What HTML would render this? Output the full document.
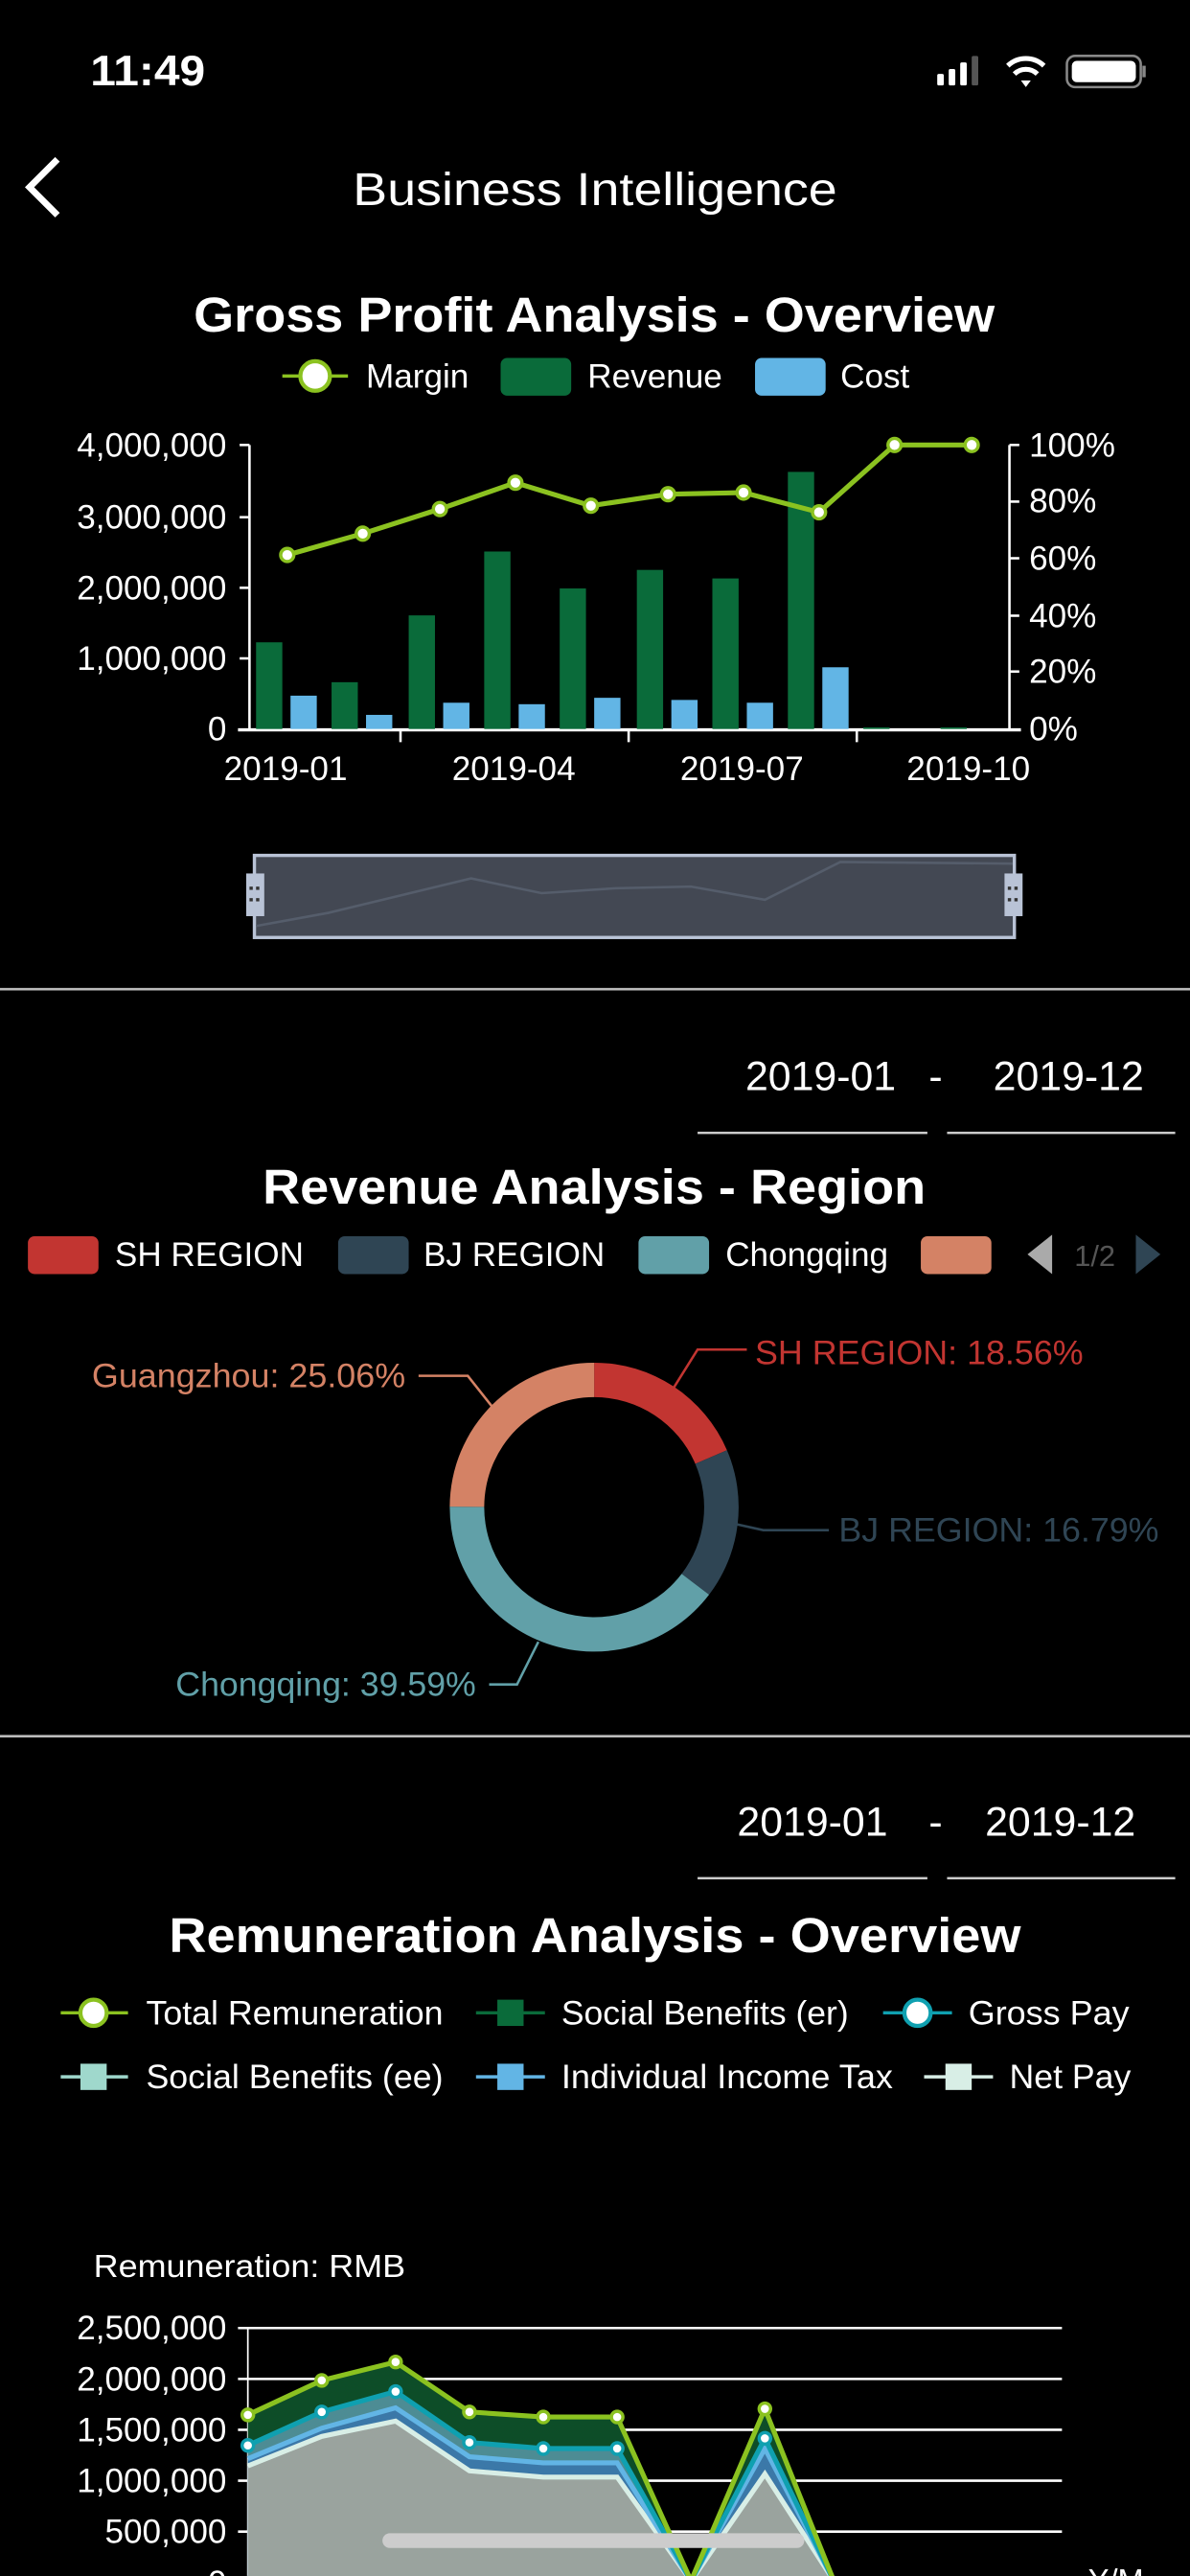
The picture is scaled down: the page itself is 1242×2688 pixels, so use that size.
<!DOCTYPE html>
<html><head><meta charset="utf-8"><style>
html,body{margin:0;padding:0;background:#000;width:1242px;height:2688px;overflow:hidden}
svg{display:block}
text{font-family:"Liberation Sans",sans-serif}
</style></head><body>
<svg width="1242" height="2688" viewBox="0 0 725 1569" xmlns="http://www.w3.org/2000/svg">
<rect width="725" height="1569" fill="#000"/>
<!-- status bar -->
<text x="55" y="52" fill="#fff" font-size="26" font-weight="600" textLength="70" lengthAdjust="spacingAndGlyphs">11:49</text>
<g fill="#fff">
<rect x="571" y="45" width="4" height="7" rx="1"/><rect x="578" y="42" width="4" height="10" rx="1"/><rect x="585" y="38" width="4" height="14" rx="1"/><rect x="592" y="34" width="4" height="18" rx="1" fill="#555"/>
</g>
<path d="M614 40 a16 16 0 0 1 22 0" stroke="#fff" stroke-width="3" fill="none"/>
<path d="M618 45 a10 10 0 0 1 14 0" stroke="#fff" stroke-width="3" fill="none"/>
<path d="M622 49 l3 4 l3 -4 z" fill="#fff"/>
<rect x="650" y="34" width="45" height="19" rx="5" fill="none" stroke="#888" stroke-width="1.5"/>
<rect x="653" y="37" width="39" height="13" rx="3" fill="#fff"/>
<rect x="696" y="40" width="2" height="7" fill="#888"/>
<!-- nav -->
<path d="M35 97 L18 114 L35 131" stroke="#fff" stroke-width="4" fill="none"/>
<text x="215" y="125" fill="#fff" font-size="28" font-weight="500" textLength="295" lengthAdjust="spacingAndGlyphs">Business Intelligence</text>

<!-- chart 1 -->
<text x="118" y="202" fill="#fff" font-size="30" font-weight="bold" textLength="488" lengthAdjust="spacingAndGlyphs">Gross Profit Analysis - Overview</text>
<line x1="172" y1="229" x2="212" y2="229" stroke="#8bc220" stroke-width="2"/>
<circle cx="192" cy="229" r="9" fill="#fff" stroke="#8bc220" stroke-width="2.5"/>
<text x="223" y="236" fill="#fff" font-size="20.5">Margin</text>
<rect x="305" y="218" width="43" height="23" rx="4" fill="#0a6b3a"/>
<text x="358" y="236" fill="#fff" font-size="20.5">Revenue</text>
<rect x="460" y="218" width="43" height="23" rx="4" fill="#62b5e5"/>
<text x="512" y="236" fill="#fff" font-size="20.5">Cost</text>
<g fill="#fff" font-size="20.5" text-anchor="end">
<text x="138" y="278">4,000,000</text><text x="138" y="322">3,000,000</text><text x="138" y="365">2,000,000</text><text x="138" y="408">1,000,000</text><text x="138" y="451">0</text>
</g>
<g fill="#fff" font-size="20.5">
<text x="627" y="278">100%</text><text x="627" y="312">80%</text><text x="627" y="347">60%</text><text x="627" y="382">40%</text><text x="627" y="416">20%</text><text x="627" y="451">0%</text>
</g>
<g stroke="#fff" stroke-width="1.5">
<line x1="152" y1="271" x2="152" y2="444"/><line x1="146" y1="271" x2="152" y2="271"/><line x1="146" y1="315" x2="152" y2="315"/><line x1="146" y1="358" x2="152" y2="358"/><line x1="146" y1="401" x2="152" y2="401"/>
<line x1="615" y1="271" x2="615" y2="444"/><line x1="615" y1="271" x2="621" y2="271"/><line x1="615" y1="305.5" x2="621" y2="305.5"/><line x1="615" y1="340" x2="621" y2="340"/><line x1="615" y1="375" x2="621" y2="375"/><line x1="615" y1="409" x2="621" y2="409"/>
<line x1="145" y1="444.5" x2="622" y2="444.5" stroke-width="2"/>
<line x1="244" y1="444" x2="244" y2="452"/><line x1="383" y1="444" x2="383" y2="452"/><line x1="522" y1="444" x2="522" y2="452"/>
</g>
<g fill="#0a6b3a">
<rect x="156" y="391.2" width="16" height="52.8"/><rect x="202" y="415.5" width="16" height="28.5"/><rect x="249" y="374.8" width="16" height="69.2"/><rect x="295" y="335.9" width="16" height="108.1"/><rect x="341" y="358.4" width="16" height="85.6"/><rect x="388" y="347.1" width="16" height="96.9"/><rect x="434" y="352.3" width="16" height="91.7"/><rect x="480" y="287.4" width="16" height="156.6"/><rect x="526" y="443" width="16" height="1"/><rect x="573" y="443" width="16" height="1"/>
</g>
<g fill="#62b5e5">
<rect x="177" y="423.7" width="16" height="20.3"/><rect x="223" y="435.4" width="16" height="8.6"/><rect x="270" y="428" width="16" height="16"/><rect x="316" y="428.9" width="16" height="15.1"/><rect x="362" y="425" width="16" height="19"/><rect x="409" y="426.3" width="16" height="17.7"/><rect x="455" y="428" width="16" height="16"/><rect x="501" y="406.4" width="16" height="37.6"/>
</g>
<polyline points="175,338 221,325 268,310 314,294 360,308 407,301 453,300 499,312 545,271 592,271" fill="none" stroke="#8bc220" stroke-width="3"/>
<g fill="#fff" stroke="#8bc220" stroke-width="2">
<circle cx="175" cy="338" r="4"/><circle cx="221" cy="325" r="4"/><circle cx="268" cy="310" r="4"/><circle cx="314" cy="294" r="4"/><circle cx="360" cy="308" r="4"/><circle cx="407" cy="301" r="4"/><circle cx="453" cy="300" r="4"/><circle cx="499" cy="312" r="4"/><circle cx="545" cy="271" r="4"/><circle cx="592" cy="271" r="4"/>
</g>
<g fill="#fff" font-size="20.5" text-anchor="middle">
<text x="174" y="475">2019-01</text><text x="313" y="475">2019-04</text><text x="452" y="475">2019-07</text><text x="590" y="475">2019-10</text>
</g>
<!-- datazoom -->
<rect x="155" y="521" width="463" height="50" fill="#434853" stroke="#b9c3d6" stroke-width="2"/>
<polyline points="156,564 200,556 287,535 330,544 375,541 421,540 466,548 512,525 617,526" fill="none" stroke="#555d6b" stroke-width="1.5"/>
<rect x="150" y="532" width="11" height="26" fill="#b9c3d6"/><rect x="612" y="532" width="11" height="26" fill="#b9c3d6"/>
<g fill="#333"><rect x="152" y="540" width="2" height="2"/><rect x="156" y="540" width="2" height="2"/><rect x="152" y="547" width="2" height="2"/><rect x="156" y="547" width="2" height="2"/><rect x="614" y="540" width="2" height="2"/><rect x="618" y="540" width="2" height="2"/><rect x="614" y="547" width="2" height="2"/><rect x="618" y="547" width="2" height="2"/></g>
<line x1="0" y1="602.5" x2="725" y2="602.5" stroke="#bbb" stroke-width="1.5"/>

<!-- section 2 -->
<g fill="#fff" font-size="25" text-anchor="middle">
<text x="500" y="664">2019-01</text><text x="570" y="664">-</text><text x="651" y="664">2019-12</text>
</g>
<line x1="425" y1="690" x2="565" y2="690" stroke="#ccc" stroke-width="1.5"/><line x1="577" y1="690" x2="716" y2="690" stroke="#ccc" stroke-width="1.5"/>
<text x="160" y="733" fill="#fff" font-size="30" font-weight="bold" textLength="404" lengthAdjust="spacingAndGlyphs">Revenue Analysis - Region</text>
<rect x="17" y="753" width="43" height="23" rx="4" fill="#c23531"/><text x="70" y="771" fill="#fff" font-size="20.5">SH REGION</text>
<rect x="206" y="753" width="43" height="23" rx="4" fill="#2f4554"/><text x="258" y="771" fill="#fff" font-size="20.5">BJ REGION</text>
<rect x="389" y="753" width="43" height="23" rx="4" fill="#61a0a8"/><text x="442" y="771" fill="#fff" font-size="20.5">Chongqing</text>
<rect x="561" y="753" width="43" height="23" rx="4" fill="#d48265"/>
<path d="M641 752 L626 764 L641 776 Z" fill="#aaa"/>
<text x="667" y="771" fill="#555" font-size="18" text-anchor="middle">1/2</text>
<path d="M692 752 L707 764 L692 776 Z" fill="#2f4554"/>
<!-- donut -->
<path d="M362 830 A88 88 0 0 1 442.9 883.3 L423.6 891.6 A67 67 0 0 0 362 851 Z" fill="#c23531"/>
<path d="M442.9 883.3 A88 88 0 0 1 432 971.3 L415.3 958.6 A67 67 0 0 0 423.6 891.6 Z" fill="#2f4554"/>
<path d="M432 971.3 A88 88 0 0 1 274 917.7 L295 917.8 A67 67 0 0 0 415.3 958.6 Z" fill="#61a0a8"/>
<path d="M274 917.7 A88 88 0 0 1 362 830 L362 851 A67 67 0 0 0 295 917.8 Z" fill="#d48265"/>
<polyline points="410,846 425,822 455,822" fill="none" stroke="#c23531" stroke-width="1.5"/>
<text x="460" y="831" fill="#c23531" font-size="20.5" textLength="200" lengthAdjust="spacingAndGlyphs">SH REGION: 18.56%</text>
<polyline points="447,928 465,932 505,932" fill="none" stroke="#2f4554" stroke-width="1.5"/>
<text x="511" y="939" fill="#2f4554" font-size="20.5" textLength="195" lengthAdjust="spacingAndGlyphs">BJ REGION: 16.79%</text>
<polyline points="328,1000 315,1026 298,1026" fill="none" stroke="#61a0a8" stroke-width="1.5"/>
<text x="107" y="1033" fill="#61a0a8" font-size="20.5" textLength="183" lengthAdjust="spacingAndGlyphs">Chongqing: 39.59%</text>
<polyline points="300,857 285,838 255,838" fill="none" stroke="#d48265" stroke-width="1.5"/>
<text x="56" y="845" fill="#d48265" font-size="20.5" textLength="191" lengthAdjust="spacingAndGlyphs">Guangzhou: 25.06%</text>
<line x1="0" y1="1057.5" x2="725" y2="1057.5" stroke="#bbb" stroke-width="1.5"/>

<!-- section 3 -->
<g fill="#fff" font-size="25" text-anchor="middle">
<text x="495" y="1118">2019-01</text><text x="570" y="1118">-</text><text x="646" y="1118">2019-12</text>
</g>
<line x1="425" y1="1144" x2="565" y2="1144" stroke="#ccc" stroke-width="1.5"/><line x1="577" y1="1144" x2="716" y2="1144" stroke="#ccc" stroke-width="1.5"/>
<text x="103" y="1189" fill="#fff" font-size="30" font-weight="bold" textLength="519" lengthAdjust="spacingAndGlyphs">Remuneration Analysis - Overview</text>
<line x1="37" y1="1226" x2="78" y2="1226" stroke="#8bc220" stroke-width="2"/><circle cx="57" cy="1226" r="8" fill="#fff" stroke="#8bc220" stroke-width="2.5"/>
<text x="89" y="1233" fill="#fff" font-size="20.5" textLength="181" lengthAdjust="spacingAndGlyphs">Total Remuneration</text>
<line x1="290" y1="1226" x2="332" y2="1226" stroke="#0a6b3a" stroke-width="2"/><rect x="303" y="1218" width="16" height="16" fill="#0a6b3a"/>
<text x="342" y="1233" fill="#fff" font-size="20.5" textLength="175" lengthAdjust="spacingAndGlyphs">Social Benefits (er)</text>
<line x1="538" y1="1226" x2="580" y2="1226" stroke="#0fa0b0" stroke-width="2"/><circle cx="559" cy="1226" r="8" fill="#fff" stroke="#0fa0b0" stroke-width="2.5"/>
<text x="590" y="1233" fill="#fff" font-size="20.5" textLength="98" lengthAdjust="spacingAndGlyphs">Gross Pay</text>
<line x1="37" y1="1265" x2="78" y2="1265" stroke="#9fd8cc" stroke-width="2"/><rect x="49" y="1257" width="16" height="16" fill="#9fd8cc"/>
<text x="89" y="1272" fill="#fff" font-size="20.5" textLength="181" lengthAdjust="spacingAndGlyphs">Social Benefits (ee)</text>
<line x1="290" y1="1265" x2="332" y2="1265" stroke="#62b5e5" stroke-width="2"/><rect x="303" y="1257" width="16" height="16" fill="#62b5e5"/>
<text x="342" y="1272" fill="#fff" font-size="20.5" textLength="202" lengthAdjust="spacingAndGlyphs">Individual Income Tax</text>
<line x1="563" y1="1265" x2="605" y2="1265" stroke="#d8eee6" stroke-width="2"/><rect x="576" y="1257" width="16" height="16" fill="#d8eee6"/>
<text x="615" y="1272" fill="#fff" font-size="20.5" textLength="74" lengthAdjust="spacingAndGlyphs">Net Pay</text>
<text x="57" y="1387" fill="#fff" font-size="19.5" textLength="190" lengthAdjust="spacingAndGlyphs">Remuneration: RMB</text>
<g fill="#fff" font-size="20.5" text-anchor="end">
<text x="138" y="1425">2,500,000</text><text x="138" y="1456">2,000,000</text><text x="138" y="1487">1,500,000</text><text x="138" y="1518">1,000,000</text><text x="138" y="1549">500,000</text><text x="138" y="1580">0</text>
</g>
<g stroke="#fff" stroke-width="1.5">
<line x1="145" y1="1418" x2="647" y2="1418"/><line x1="145" y1="1449" x2="647" y2="1449"/><line x1="145" y1="1480" x2="647" y2="1480"/><line x1="145" y1="1511" x2="647" y2="1511"/><line x1="145" y1="1542" x2="647" y2="1542"/>
<line x1="151" y1="1418" x2="151" y2="1569" stroke-width="1"/>
</g>
<polygon points="151,1470.9 196,1449.9 241,1438.7 286,1469.1 331,1472.2 376,1472.2 421,1572 466,1467.2 508,1572 151,1572" fill="#0d4d28"/>
<polygon points="151,1489.5 196,1469.1 241,1456.7 286,1487.7 331,1491.4 376,1491.4 421,1572 466,1485.2 508,1572 151,1572" fill="#4d8c94"/>
<polygon points="151,1497.6 196,1479 241,1466.6 286,1496.4 331,1500.1 376,1500.1 421,1572 466,1491.4 508,1572 151,1572" fill="#3b78a8"/>
<polygon points="151,1502 196,1484 241,1474.7 286,1505 331,1508.8 376,1508.8 421,1572 466,1506.9 508,1572 151,1572" fill="#9aa39e"/>
<polyline points="151,1502 196,1484 241,1474.7 286,1505 331,1508.8 376,1508.8 421,1572 466,1506.9 508,1572" fill="none" stroke="#d8eee6" stroke-width="3"/>
<polyline points="151,1497.6 196,1479 241,1466.6 286,1496.4 331,1500.1 376,1500.1 421,1572 466,1491.4 508,1572" fill="none" stroke="#62b5e5" stroke-width="3"/>
<polyline points="151,1489.5 196,1469.1 241,1456.7 286,1487.7 331,1491.4 376,1491.4 421,1572 466,1485.2 508,1572" fill="none" stroke="#0fa0b0" stroke-width="3"/>
<polyline points="151,1470.9 196,1449.9 241,1438.7 286,1469.1 331,1472.2 376,1472.2 421,1572 466,1467.2 508,1572" fill="none" stroke="#8bc220" stroke-width="3"/>
<g fill="#fff" stroke="#8bc220" stroke-width="2"><circle cx="151" cy="1470.9" r="3.5"/><circle cx="196" cy="1449.9" r="3.5"/><circle cx="241" cy="1438.7" r="3.5"/><circle cx="286" cy="1469.1" r="3.5"/><circle cx="331" cy="1472.2" r="3.5"/><circle cx="376" cy="1472.2" r="3.5"/><circle cx="466" cy="1467.2" r="3.5"/></g>
<g fill="#fff" stroke="#0fa0b0" stroke-width="2"><circle cx="151" cy="1489.5" r="3.5"/><circle cx="196" cy="1469.1" r="3.5"/><circle cx="241" cy="1456.7" r="3.5"/><circle cx="286" cy="1487.7" r="3.5"/><circle cx="331" cy="1491.4" r="3.5"/><circle cx="376" cy="1491.4" r="3.5"/><circle cx="466" cy="1485.2" r="3.5"/></g>
<rect x="233" y="1543" width="257" height="9" rx="4.5" fill="#ccc"/>
<text x="663" y="1578" fill="#fff" font-size="19">Y/M</text>
</svg>
</body></html>
